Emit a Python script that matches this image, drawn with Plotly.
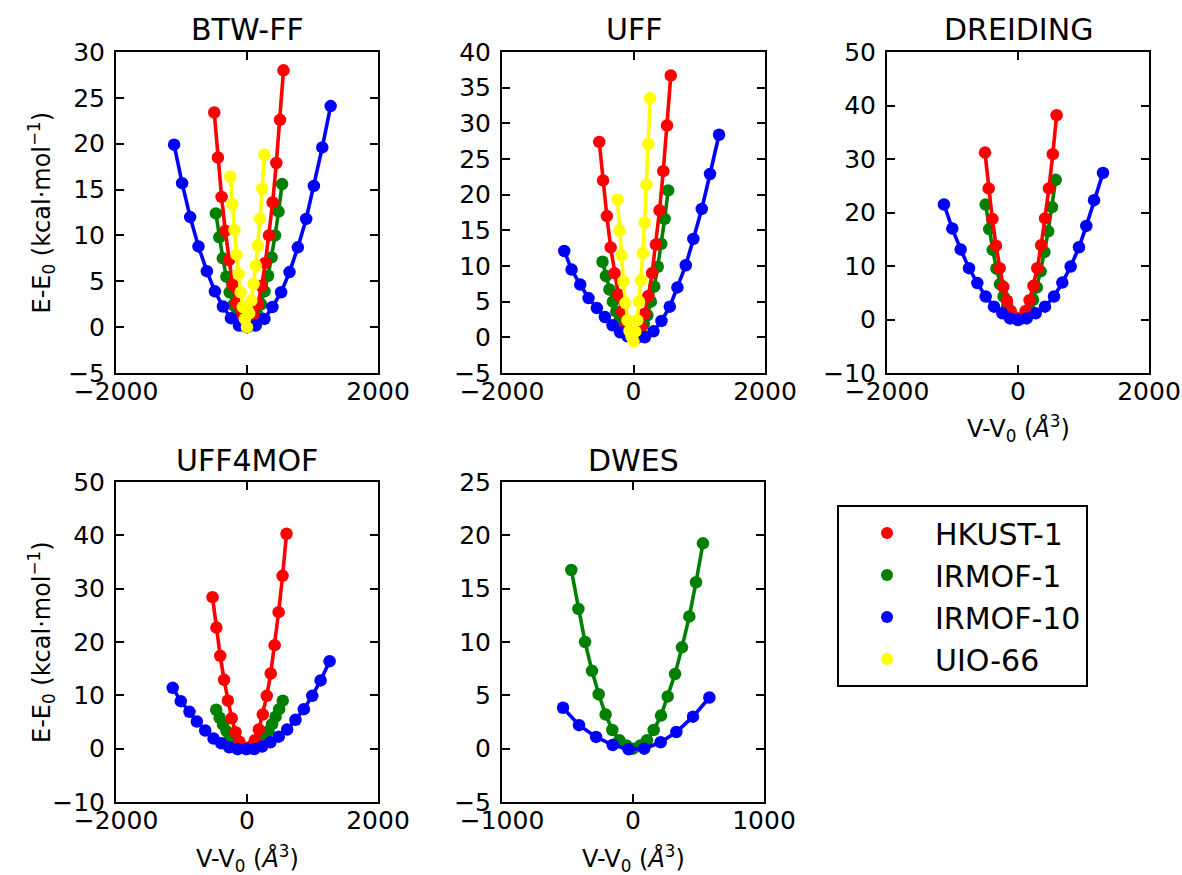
import plotly.graph_objects as go

# ---------------- data ----------------
materials = ["HKUST-1", "IRMOF-1", "IRMOF-10", "UIO-66"]
colors = {"HKUST-1": "#ff0000", "IRMOF-1": "#008000", "IRMOF-10": "#0000ff", "UIO-66": "#ffff00"}
panel_titles = ["BTW-FF", "UFF", "DREIDING", "UFF4MOF", "DWES"]

# BTW-FF
btw_hkust_v = [-500, -444, -388, -332, -276, -220, -164, -108, -52, 0, 56, 112, 168, 224, 280, 336, 392, 448, 504, 557]
btw_hkust_e = [23.4, 18.5, 14.2, 10.5, 7.3, 4.6, 2.6, 1.1, 0.3, 0.0, 0.3, 1.1, 2.5, 4.5, 7.0, 10.0, 13.6, 17.9, 22.6, 28.0]
btw_irmof1_v = [-475, -422, -369, -316, -264, -211, -158, -106, -53, 0, 54, 107, 161, 214, 268, 322, 375, 429, 482, 536]
btw_irmof1_e = [12.4, 9.8, 7.5, 5.5, 3.8, 2.4, 1.4, 0.6, 0.15, 0.0, 0.16, 0.6, 1.4, 2.5, 3.9, 5.6, 7.6, 10.0, 12.6, 15.6]
btw_irmof10_v = [-1113, -991, -868, -741, -613, -490, -368, -245, -123, 0, 133, 266, 388, 521, 649, 776, 904, 1021, 1149, 1277]
btw_irmof10_e = [19.9, 15.7, 12.0, 8.8, 6.1, 3.9, 2.25, 0.98, 0.18, 0.0, 0.18, 0.9, 2.2, 3.8, 6.0, 8.7, 11.8, 15.4, 19.6, 24.1]
btw_uio_v = [-255, -224, -192, -160, -128, -96, -64, -32, 0, 33, 66, 100, 133, 166, 200, 233, 266]
btw_uio_e = [16.4, 13.4, 10.6, 7.9, 5.8, 3.8, 2.2, 0.9, 0.0, 1.5, 2.9, 4.7, 6.7, 8.9, 11.8, 15.1, 18.8]

# UFF
uff_hkust_v = [-521, -463, -405, -347, -289, -231, -174, -116, -58, 0, 57, 113, 170, 226, 283, 340, 396, 453, 510, 567]
uff_hkust_e = [27.4, 22.0, 17.0, 12.6, 9.0, 6.0, 3.6, 1.8, 0.6, 0.0, 0.4, 1.5, 3.3, 5.8, 9.0, 13.0, 17.8, 23.3, 29.7, 36.7]
uff_irmof1_v = [-471, -419, -366, -314, -262, -209, -157, -105, -52, 0, 53, 105, 158, 211, 264, 316, 369, 422, 474, 527]
uff_irmof1_e = [10.6, 8.6, 6.7, 5.0, 3.6, 2.4, 1.4, 0.7, 0.2, 0.0, 0.3, 0.9, 1.9, 3.1, 5.0, 7.1, 9.9, 13.1, 16.6, 20.6]
uff_irmof10_v = [-1053, -942, -810, -684, -557, -435, -319, -203, -91, 46, 172, 304, 425, 552, 668, 795, 911, 1038, 1164, 1301]
uff_irmof10_e = [12.1, 9.5, 7.4, 5.5, 4.1, 2.85, 1.7, 0.7, 0.14, -0.1, 0.0, 0.84, 2.3, 4.3, 7.0, 10.1, 13.8, 18.0, 22.9, 28.4]
uff_uio_v = [-243, -213, -182, -152, -122, -91, -61, -30, 0, 28, 56, 84, 113, 141, 169, 197, 225, 253]
uff_uio_e = [19.3, 15.0, 11.5, 7.8, 4.8, 2.4, 0.9, 0.1, -0.6, 0.8, 2.4, 5.0, 8.0, 11.8, 16.1, 21.4, 27.1, 33.5]

# DREIDING
dre_hkust_v = [-504, -448, -392, -336, -280, -224, -168, -112, -56, 0, 59, 118, 177, 236, 295, 354, 413, 472, 531, 590]
dre_hkust_e = [31.2, 24.5, 18.8, 13.8, 9.6, 6.1, 3.5, 1.6, 0.4, 0.0, 0.4, 1.6, 3.6, 6.3, 9.6, 13.9, 18.9, 24.5, 30.9, 38.2]
dre_irmof1_v = [-494, -440, -385, -330, -275, -220, -165, -110, -55, 0, 58, 115, 173, 230, 288, 345, 403, 460, 518, 575]
dre_irmof1_e = [21.5, 16.9, 13.0, 9.5, 6.6, 4.3, 2.5, 1.1, 0.3, 0.0, 0.2, 0.9, 2.0, 3.7, 6.0, 9.0, 12.6, 16.5, 21.0, 26.1]
dre_irmof10_v = [-1130, -1003, -875, -748, -621, -494, -366, -239, -122, 0, 132, 270, 412, 550, 677, 804, 931, 1043, 1161, 1298]
dre_irmof10_e = [21.5, 17.0, 13.1, 9.6, 6.8, 4.3, 2.4, 1.15, 0.2, -0.1, 0.2, 1.15, 2.4, 4.3, 6.9, 9.9, 13.5, 17.5, 22.3, 27.4]

# UFF4MOF
u4m_hkust_v = [-526, -467, -409, -350, -292, -234, -175, -117, -58, 0, 60, 121, 181, 241, 302, 362, 422, 483, 543, 603]
u4m_hkust_e = [28.4, 22.7, 17.4, 12.9, 9.0, 5.7, 3.1, 1.3, 0.3, 0.0, 0.4, 1.6, 3.6, 6.4, 9.9, 14.1, 19.4, 25.6, 32.4, 40.3]
u4m_irmof1_v = [-470, -418, -366, -313, -261, -209, -157, -104, -52, 0, 55, 109, 164, 218, 273, 328, 382, 437, 491, 546]
u4m_irmof1_e = [7.3, 5.8, 4.5, 3.3, 2.3, 1.4, 0.8, 0.3, 0.1, 0.0, 0.1, 0.3, 0.8, 1.4, 2.3, 3.3, 4.6, 6.0, 7.4, 9.0]
u4m_irmof10_v = [-1134, -1011, -878, -766, -638, -511, -393, -271, -143, -10, 112, 230, 357, 485, 613, 740, 868, 996, 1124, 1261]
u4m_irmof10_e = [11.4, 8.9, 6.9, 5.1, 3.4, 1.9, 1.0, 0.25, -0.1, -0.1, -0.06, 0.4, 1.2, 2.25, 3.6, 5.4, 7.4, 9.9, 12.8, 16.4]

# DWES
dwes_irmof1_v = [-471, -417, -366, -313, -262, -209, -158, -104, -51, 0, 56, 107, 158, 214, 265, 321, 374, 430, 481, 534]
dwes_irmof1_e = [16.75, 13.1, 10.0, 7.3, 5.1, 3.2, 1.75, 0.8, 0.3, 0.0, 0.3, 0.8, 1.75, 3.1, 4.9, 7.0, 9.5, 12.4, 15.6, 19.25]
dwes_irmof10_v = [-534, -412, -282, -155, -33, 86, 211, 331, 458, 583]
dwes_irmof10_e = [3.84, 2.2, 1.1, 0.34, -0.06, 0.0, 0.6, 1.56, 3.0, 4.8]

# axis ticks
x_ticks_wide = [-2000, 0, 2000]
x_ticks_dwes = [-1000, 0, 1000]
y_ticks_btw = [-5, 0, 5, 10, 15, 20, 25, 30]
y_ticks_uff = [-5, 0, 5, 10, 15, 20, 25, 30, 35, 40]
y_ticks_dre = [-10, 0, 10, 20, 30, 40, 50]
y_ticks_u4m = [-10, 0, 10, 20, 30, 40, 50]
y_ticks_dwes = [-5, 0, 5, 10, 15, 20, 25]

# ---------------- layout helpers ----------------
W, H = 1182, 875
FONT = "DejaVu Sans"


def fx(p):
    return p / W


def fy(p):
    return 1 - p / H


def lab(v):
    return ("\u2212" + str(-v)) if v < 0 else str(v)


# panel series in drawing order (green, red, blue, yellow)
panels = [
    dict(title=panel_titles[0], cols=(116, 378), rows=(52, 373), xt=x_ticks_wide, yt=y_ticks_btw,
         ylab=True, xlab=False,
         series=[("IRMOF-1", btw_irmof1_v, btw_irmof1_e), ("HKUST-1", btw_hkust_v, btw_hkust_e),
                 ("IRMOF-10", btw_irmof10_v, btw_irmof10_e), ("UIO-66", btw_uio_v, btw_uio_e)]),
    dict(title=panel_titles[1], cols=(502, 765), rows=(52, 373), xt=x_ticks_wide, yt=y_ticks_uff,
         ylab=False, xlab=False,
         series=[("IRMOF-1", uff_irmof1_v, uff_irmof1_e), ("HKUST-1", uff_hkust_v, uff_hkust_e),
                 ("IRMOF-10", uff_irmof10_v, uff_irmof10_e), ("UIO-66", uff_uio_v, uff_uio_e)]),
    dict(title=panel_titles[2], cols=(887, 1149), rows=(52, 373), xt=x_ticks_wide, yt=y_ticks_dre,
         ylab=False, xlab=True,
         series=[("IRMOF-1", dre_irmof1_v, dre_irmof1_e), ("HKUST-1", dre_hkust_v, dre_hkust_e),
                 ("IRMOF-10", dre_irmof10_v, dre_irmof10_e)]),
    dict(title=panel_titles[3], cols=(116, 378), rows=(482, 802), xt=x_ticks_wide, yt=y_ticks_u4m,
         ylab=True, xlab=True,
         series=[("IRMOF-1", u4m_irmof1_v, u4m_irmof1_e), ("HKUST-1", u4m_hkust_v, u4m_hkust_e),
                 ("IRMOF-10", u4m_irmof10_v, u4m_irmof10_e)]),
    dict(title=panel_titles[4], cols=(502, 764), rows=(482, 802), xt=x_ticks_dwes, yt=y_ticks_dwes,
         ylab=False, xlab=True,
         series=[("IRMOF-1", dwes_irmof1_v, dwes_irmof1_e), ("IRMOF-10", dwes_irmof10_v, dwes_irmof10_e)]),
]

fig = go.Figure()
layout = dict(
    width=W, height=H, margin=dict(l=0, r=0, t=0, b=0, pad=0, autoexpand=False),
    paper_bgcolor="white", plot_bgcolor="white",
    font=dict(family=FONT, color="black", size=25),
    showlegend=True,
    legend=dict(x=fx(837), y=fy(505), xanchor="left", yanchor="top",
                bordercolor="black", borderwidth=2, bgcolor="white",
                font=dict(family=FONT, size=30, color="black"),
                itemwidth=86, tracegroupgap=6, traceorder="normal"),
)
annotations = []

for i, p in enumerate(panels, start=1):
    xa = "x" if i == 1 else f"x{i}"
    ya = "y" if i == 1 else f"y{i}"
    axis_common = dict(ticks="inside", ticklen=8, tickwidth=1.5, tickcolor="black",
                       showline=True, linecolor="black", linewidth=2, mirror="ticks",
                       showgrid=False, zeroline=False, automargin=False,
                       tickfont=dict(family=FONT, size=25, color="black"))
    layout["xaxis" if i == 1 else f"xaxis{i}"] = dict(
        domain=[fx(p["cols"][0]), fx(p["cols"][1])], anchor=ya,
        range=[p["xt"][0], p["xt"][-1]], tickmode="array", tickvals=p["xt"],
        ticktext=[lab(v) for v in p["xt"]], ticklabelstandoff=-5, **axis_common)
    layout["yaxis" if i == 1 else f"yaxis{i}"] = dict(
        domain=[fy(p["rows"][1]), fy(p["rows"][0])], anchor=xa,
        range=[p["yt"][0], p["yt"][-1]], tickmode="array", tickvals=p["yt"],
        ticktext=[lab(v) for v in p["yt"]], ticklabelstandoff=4, **axis_common)

    for name, v, e in p["series"]:
        fig.add_trace(go.Scatter(
            x=v, y=e, mode="lines+markers", xaxis=xa, yaxis=ya, showlegend=False,
            line=dict(color=colors[name], width=3.6),
            marker=dict(color=colors[name], size=12.5),
            name=name, hoverinfo="skip"))

    cx = (p["cols"][0] + p["cols"][1]) / 2
    annotations.append(dict(text=p["title"], x=fx(cx), y=fy(p["rows"][0] - 22), xref="paper", yref="paper",
                            xanchor="center", yanchor="middle", showarrow=False,
                            font=dict(family=FONT, size=30, color="black")))
    if p["ylab"]:
        cy = (p["rows"][0] + p["rows"][1]) / 2
        annotations.append(dict(text="E-E<sub>0</sub> (kcal\u00b7mol<sup>\u22121</sup>)",
                                x=fx(41), y=fy(cy), xref="paper", yref="paper", textangle=-90,
                                xanchor="center", yanchor="middle", showarrow=False,
                                font=dict(family=FONT, size=24, color="black")))
    if p["xlab"]:
        annotations.append(dict(text="V-V<sub>0</sub> (<i>\u00c5</i><sup>3</sup>)",
                                x=fx(cx), y=fy(p["rows"][1] + 56), xref="paper", yref="paper",
                                xanchor="center", yanchor="middle", showarrow=False,
                                font=dict(family=FONT, size=24, color="black")))

# legend entries
for name in materials:
    fig.add_trace(go.Scatter(x=[None], y=[None], mode="markers", name=name, legendgroup=name,
                             marker=dict(color=colors[name], size=12), showlegend=True))

layout["annotations"] = annotations
fig.update_layout(**layout)

fig.write_html("out.html", config={"displayModeBar": False},
               post_script="document.body.style.margin='0';document.body.style.overflow='hidden';")
